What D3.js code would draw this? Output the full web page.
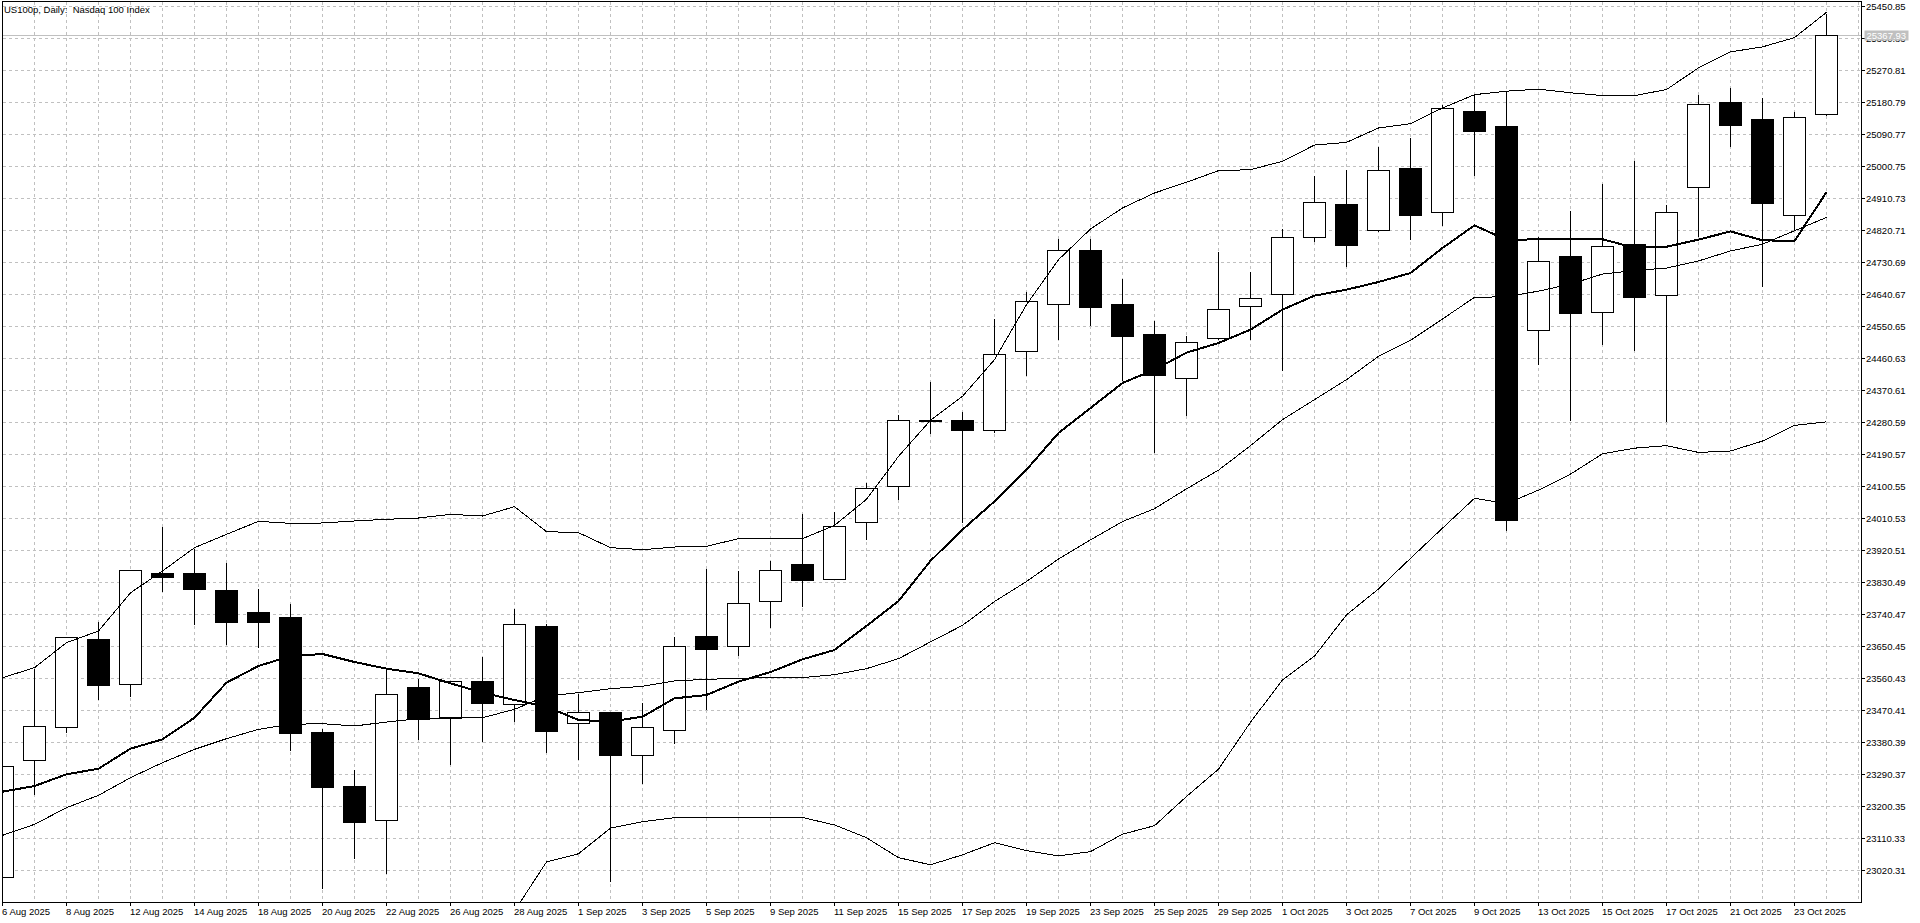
<!DOCTYPE html>
<html>
<head>
<meta charset="utf-8">
<script src="https://cdn.jsdelivr.net/npm/d3@7"></script>
<style>
  html, body { margin: 0; padding: 0; background: #fff; overflow: hidden; }
  svg { display: block; }
</style>
</head>
<body>
<div id="chart"></div>
<script>

var title = "US100p, Daily:  Nasdaq 100 Index";

var dates = [
  "6 Aug 2025", "7 Aug 2025", "8 Aug 2025", "11 Aug 2025", "12 Aug 2025", "13 Aug 2025", "14 Aug 2025", "15 Aug 2025",
  "18 Aug 2025", "19 Aug 2025", "20 Aug 2025", "21 Aug 2025", "22 Aug 2025", "25 Aug 2025", "26 Aug 2025", "27 Aug 2025",
  "28 Aug 2025", "29 Aug 2025", "1 Sep 2025", "2 Sep 2025", "3 Sep 2025", "4 Sep 2025", "5 Sep 2025", "8 Sep 2025",
  "9 Sep 2025", "10 Sep 2025", "11 Sep 2025", "12 Sep 2025", "15 Sep 2025", "16 Sep 2025", "17 Sep 2025", "18 Sep 2025",
  "19 Sep 2025", "22 Sep 2025", "23 Sep 2025", "24 Sep 2025", "25 Sep 2025", "26 Sep 2025", "29 Sep 2025", "30 Sep 2025",
  "1 Oct 2025", "2 Oct 2025", "3 Oct 2025", "6 Oct 2025", "7 Oct 2025", "8 Oct 2025", "9 Oct 2025", "10 Oct 2025",
  "13 Oct 2025", "14 Oct 2025", "15 Oct 2025", "16 Oct 2025", "17 Oct 2025", "20 Oct 2025", "21 Oct 2025", "22 Oct 2025",
  "23 Oct 2025", "24 Oct 2025"
];

var open = [
  23001.6, 23330.7, 23422.6, 23669.2, 23544.5, 23854.8, 23854.8, 23807.0,
  23745.1, 23731.1, 23407.6, 23255.7, 23161.9, 23536.0, 23448.8, 23552.9,
  23488.2, 23705.8, 23434.8, 23463.8, 23343.8, 23415.1, 23677.6, 23651.4,
  23778.0, 23880.2, 23839.9, 24000.2, 24101.5, 24284.0, 24286.2, 24258.1,
  24479.4, 24612.5, 24764.4, 24612.5, 24528.1, 24404.3, 24516.9, 24606.9,
  24640.7, 24801.0, 24893.9, 24820.7, 24996.1, 24871.4, 25155.5, 25112.6,
  24540.7, 24746.7, 24590.7, 24781.7, 24638.7, 24942.7, 25180.8, 25132.8,
  24862.7, 25145.8
];

var high = [
  23330.0, 23589.5, 23677.0, 23719.8, 23867.0, 23988.0, 23926.1, 23886.7,
  23812.6, 23770.4, 23420.7, 23303.5, 23584.8, 23559.5, 23555.0, 23621.4,
  23757.3, 23714.2, 23517.3, 23466.0, 23492.0, 23678.6, 23869.9, 23863.3,
  23891.4, 24024.6, 24029.3, 24112.0, 24303.1, 24396.8, 24310.6, 24574.1,
  24650.0, 24797.2, 24799.1, 24685.7, 24567.5, 24526.2, 24762.6, 24706.3,
  24825.4, 24976.4, 24993.3, 25058.0, 25083.3, 25175.2, 25206.1, 25210.4,
  24803.7, 24876.7, 24951.7, 25017.8, 24893.7, 25203.8, 25223.8, 25195.8,
  25154.8, 25430.8
];

var low = [
  22990.0, 23233.1, 23408.5, 23500.4, 23509.8, 23805.1, 23712.3, 23655.1,
  23647.6, 23357.9, 22969.7, 23053.1, 23010.9, 23387.9, 23317.6, 23382.3,
  23439.5, 23352.3, 23331.6, 22989.4, 23264.1, 23378.5, 23472.3, 23625.1,
  23703.9, 23762.0, 23838.0, 23951.4, 24064.0, 24249.6, 23999.3, 24251.5,
  24413.7, 24515.0, 24552.5, 24399.7, 24196.2, 24299.3, 24514.0, 24514.1,
  24426.9, 24788.8, 24718.5, 24818.0, 24794.5, 24835.7, 24974.5, 23978.0,
  24444.6, 24285.6, 24500.6, 24482.6, 24282.6, 24803.7, 25055.8, 24663.7,
  24820.7, 25145.0
];

var close = [
  23312.9, 23426.3, 23674.8, 23540.7, 23865.2, 23844.5, 23810.8, 23717.9,
  23717.9, 23405.7, 23253.8, 23155.3, 23516.4, 23444.1, 23552.9, 23490.1,
  23713.3, 23411.3, 23465.7, 23343.8, 23423.5, 23651.4, 23642.0, 23772.3,
  23865.2, 23836.1, 23989.0, 24095.8, 24286.2, 24287.0, 24258.1, 24471.9,
  24621.0, 24764.4, 24603.1, 24521.6, 24411.8, 24505.6, 24598.5, 24629.4,
  24801.0, 24899.5, 24777.6, 24990.4, 24862.0, 25163.9, 25100.2, 24004.8,
  24733.7, 24587.7, 24776.7, 24632.7, 24871.7, 25173.8, 25116.8, 24895.7,
  25138.8, 25367.93
];

// thick moving average
var maValues = [
  23240.6, 23256.6, 23289.4, 23305.3, 23361.6, 23387.9, 23448.8, 23547.3,
  23594.2, 23622.0, 23628.0, 23605.4, 23586.7, 23573.5, 23545.4, 23519.2,
  23498.5, 23479.8, 23442.3, 23438.0, 23451.6, 23503.2, 23512.6, 23550.1,
  23577.3, 23612.9, 23639.2, 23706.7, 23777.0, 23890.0, 23977.7, 24057.4,
  24146.5, 24249.6, 24319.9, 24390.3, 24427.8, 24475.6, 24502.8, 24540.4,
  24596.6, 24636.0, 24652.9, 24674.4, 24699.8, 24770.1, 24833.8, 24792.6,
  24794.7, 24796.7, 24794.7, 24770.7, 24773.7, 24793.7, 24816.7, 24791.7,
  24789.7, 24927.2
];

// bands
var bandMiddle = [
  23117.8, 23148.8, 23195.6, 23230.3, 23280.0, 23322.2, 23359.7, 23389.7,
  23416.0, 23430.1, 23432.0, 23425.4, 23436.6, 23446.0, 23448.8, 23448.8,
  23472.3, 23509.8, 23519.2, 23530.4, 23537.0, 23552.0, 23556.7, 23559.5,
  23561.4, 23561.4, 23569.8, 23586.7, 23614.8, 23662.0, 23708.5, 23775.6,
  23831.9, 23895.2, 23949.1, 24000.6, 24036.8, 24092.5, 24145.1, 24214.0,
  24287.2, 24343.4, 24399.7, 24465.3, 24510.3, 24570.4, 24631.3, 24633.0,
  24648.7, 24668.7, 24696.7, 24706.7, 24713.7, 24733.7, 24761.7, 24780.7,
  24818.7, 24856.0
];

var bandUpper = [
  23561.3, 23589.5, 23659.8, 23692.6, 23800.0, 23861.4, 23927.0, 23964.6,
  24001.2, 23995.5, 23996.5, 24002.1, 24006.8, 24010.5, 24020.8, 24016.1,
  24042.4, 23972.1, 23969.3, 23927.1, 23921.4, 23928.9, 23930.8, 23952.4,
  23952.4, 23952.4, 23989.9, 24063.0, 24184.0, 24285.3, 24352.8, 24455.9,
  24610.6, 24737.2, 24823.5, 24882.6, 24924.8, 24955.0, 24987.6, 24990.4,
  25013.9, 25059.8, 25067.3, 25107.7, 25119.8, 25163.9, 25201.4, 25211.3,
  25216.8, 25206.8, 25198.8, 25198.8, 25215.8, 25276.8, 25321.8, 25335.8,
  25362.0, 25433.0
];

var bandLower = [
  22674.0, 22708.0, 22731.0, 22768.0, 22760.0, 22783.0, 22792.0, 22815.0,
  22831.0, 22865.0, 22868.0, 22849.0, 22866.0, 22882.0, 22877.0, 22882.0,
  22905.0, 23043.0, 23066.0, 23138.0, 23156.0, 23167.5, 23167.5, 23167.5,
  23167.5, 23168.0, 23147.0, 23111.0, 23055.0, 23035.0, 23063.0, 23097.0,
  23075.0, 23060.0, 23072.0, 23121.0, 23145.0, 23227.0, 23304.0, 23436.0,
  23555.0, 23622.0, 23738.0, 23811.0, 23897.0, 23982.0, 24066.0, 24051.0,
  24089.0, 24134.0, 24191.0, 24207.0, 24214.0, 24195.0, 24199.0, 24227.0,
  24271.0, 24281.0
];

var yTicks = [
  25450.85, 25360.83, 25270.81, 25180.79, 25090.77, 25000.75, 24910.73, 24820.71,
  24730.69, 24640.67, 24550.65, 24460.63, 24370.61, 24280.59, 24190.57, 24100.55,
  24010.53, 23920.51, 23830.49, 23740.47, 23650.45, 23560.43, 23470.41, 23380.39,
  23290.37, 23200.35, 23110.33, 23020.31
];

var lastPrice = 25367.93;

var fontFamily = "'Liberation Sans', Arial, sans-serif";
var fontSize = "9.5px";

function drawChart(tag) {
  var width = 1920, height = 923;
  // frame of the price area
  var plot = {left: 2.5, top: 1.5, right: 1861.5, bottom: 902.5};

  var svg = d3.select('#' + tag)
    .append("svg")
      .attr("width", width)
      .attr("height", height);

  svg.append("rect")
    .attr("width", width)
    .attr("height", height)
    .attr("fill", "#ffffff");

  // bar index -> x, one bar every 32px
  var n = dates.length;
  var x = d3.scaleLinear()
    .domain([0, n - 1])
    .range([2, 2 + 32 * (n - 1)]);

  var y = d3.scaleLinear()
    .domain([yTicks[yTicks.length - 1], yTicks[0]])
    .range([870, 6]);

  function px(i) { return Math.round(x(i)) + 0.5; }
  function py(v) { return Math.round(y(v)) + 0.5; }

  svg.append("clipPath").attr("id", "plotclip")
    .append("rect")
      .attr("x", plot.left)
      .attr("y", plot.top)
      .attr("width", plot.right - plot.left)
      .attr("height", plot.bottom - plot.top);

  // grid
  var grid = svg.append("g")
    .attr("stroke", "#c0c0c0")
    .attr("stroke-width", 1)
    .attr("stroke-dasharray", "3,3")
    .attr("shape-rendering", "crispEdges");

  grid.selectAll("line.horizontalGrid").data(yTicks).enter()
    .append("line")
      .attr("class", "horizontalGrid")
      .attr("x1", plot.left)
      .attr("x2", plot.right)
      .attr("y1", function(d) { return py(d); })
      .attr("y2", function(d) { return py(d); });

  grid.selectAll("line.verticalGrid").data(d3.range(0, n + 1)).enter()
    .append("line")
      .attr("class", "verticalGrid")
      .attr("x1", function(d) { return px(d); })
      .attr("x2", function(d) { return px(d); })
      .attr("y1", plot.top)
      .attr("y2", plot.bottom);

  // last price line
  svg.append("line")
    .attr("x1", plot.left)
    .attr("x2", plot.right)
    .attr("y1", py(lastPrice))
    .attr("y2", py(lastPrice))
    .attr("stroke", "#c0c0c0")
    .attr("shape-rendering", "crispEdges");

  var area = svg.append("g").attr("clip-path", "url(#plotclip)");

  // candles
  var candle = area.selectAll("g.candle").data(d3.range(n)).enter()
    .append("g")
      .attr("class", "candle");

  candle.append("line")
    .attr("x1", function(i) { return px(i); })
    .attr("x2", function(i) { return px(i); })
    .attr("y1", function(i) { return py(high[i]); })
    .attr("y2", function(i) { return py(low[i]); })
    .attr("stroke", "#000")
    .attr("shape-rendering", "crispEdges");

  candle.append("path")
    .attr("d", function(i) {
      var x0 = px(i) - 11, x1 = px(i) + 11;
      var y0 = py(Math.max(open[i], close[i])), y1 = py(Math.min(open[i], close[i]));
      return "M" + x0 + "," + y0 + "H" + x1 + "V" + y1 + "H" + x0 + "Z";
    })
    .attr("fill", function(i) { return close[i] >= open[i] ? "#ffffff" : "#000000"; })
    .attr("stroke", "#000")
    .attr("shape-rendering", "crispEdges");

  // indicator lines, drawn aliased like the terminal does
  function addLine(values, w) {
    area.append("path")
      .datum(values)
      .attr("fill", "none")
      .attr("stroke", "#000")
      .attr("stroke-width", w)
      .attr("shape-rendering", "crispEdges")
      .attr("d", d3.line()
        .x(function(d, i) { return x(i) + 0.5; })
        .y(function(d) { return y(d); })
      );
  }
  addLine(bandUpper, 1);
  addLine(bandMiddle, 1);
  addLine(bandLower, 1);
  addLine(maValues, 2);

  // frame
  svg.append("path")
    .attr("d", "M" + plot.right + "," + plot.top + "H" + plot.left + "V" + plot.bottom + "H" + plot.right + "Z")
    .attr("fill", "none")
    .attr("stroke", "#000")
    .attr("shape-rendering", "crispEdges");

  // Y axis on the right
  var gy = svg.append("g")
    .attr("transform", "translate(" + (plot.right - 0.5) + ",0)")
    .call(d3.axisRight(y)
      .tickValues(yTicks)
      .tickSize(4)
      .tickSizeOuter(0)
      .tickPadding(1)
      .tickFormat(d3.format(".2f")));
  gy.select(".domain").remove();
  gy.attr("font-family", fontFamily).attr("font-size", fontSize);
  gy.selectAll("text").attr("fill", "#000");

  // X axis at the bottom, label every second bar
  var gx = svg.append("g")
    .attr("transform", "translate(0," + (plot.bottom - 0.5) + ")")
    .call(d3.axisBottom(x)
      .tickValues(d3.range(0, n, 2))
      .tickSize(4)
      .tickSizeOuter(0)
      .tickPadding(2)
      .tickFormat(function(i) { return dates[i]; }));
  gx.select(".domain").remove();
  gx.attr("font-family", fontFamily).attr("font-size", fontSize);
  gx.selectAll("text")
    .attr("fill", "#000")
    .attr("text-anchor", "start")
    .attr("dx", "-0.5");

  // last price tag
  svg.append("rect")
    .attr("x", plot.right + 3)
    .attr("y", py(lastPrice) - 5)
    .attr("width", 44)
    .attr("height", 10)
    .attr("fill", "#c0c0c0");
  svg.append("text")
    .attr("x", plot.right + 5)
    .attr("y", py(lastPrice) + 3.5)
    .attr("font-family", fontFamily)
    .attr("font-size", fontSize)
    .attr("fill", "#ffffff")
    .text(d3.format(".2f")(lastPrice));

  // title
  svg.append("text")
    .attr("x", 4)
    .attr("y", 12.5)
    .attr("font-family", fontFamily)
    .attr("font-size", fontSize)
    .attr("fill", "#000")
    .style("white-space", "pre")
    .text(title);
}

drawChart('chart');
</script>
</body>
</html>
